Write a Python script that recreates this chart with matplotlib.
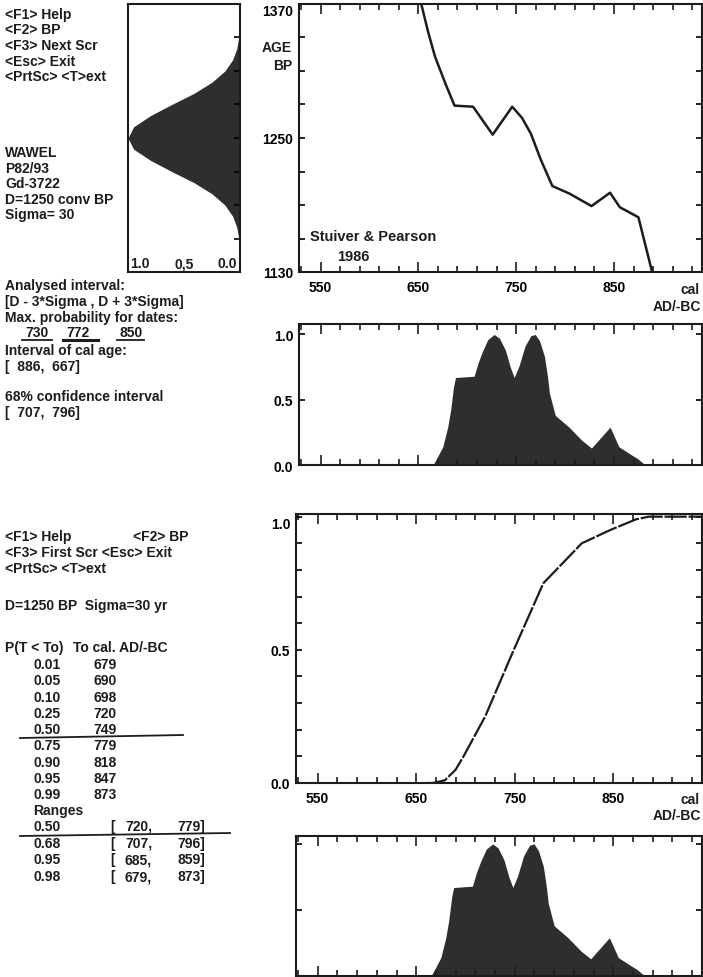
import matplotlib
matplotlib.use('Agg')
import matplotlib.pyplot as plt
from matplotlib.lines import Line2D

# calibration curve (Stuiver & Pearson 1986): cal AD/-BC vs conventional age BP
cal_years = [643, 653, 660, 667, 678, 687, 706, 726, 746, 756, 765, 775, 787, 805, 827, 846, 856, 875, 889, 898]
cal_bp = [1404, 1370, 1345, 1323, 1298, 1279, 1278, 1253, 1278, 1268, 1254, 1231, 1207, 1200, 1189, 1201, 1188, 1179, 1130, 1105]

gauss_bp = [1150, 1160, 1170, 1180, 1190, 1200, 1210, 1220, 1230, 1240, 1250,
            1260, 1270, 1280, 1290, 1300, 1310, 1320, 1330, 1340, 1350]
gauss_p = [0.0, 0.011, 0.029, 0.066, 0.135, 0.25, 0.41, 0.61, 0.80, 0.95, 1.0,
           0.95, 0.80, 0.61, 0.41, 0.25, 0.135, 0.066, 0.029, 0.011, 0.0]

# calibrated probability distribution
prob_years = [665, 668, 675, 680, 683, 686, 688, 707, 711, 715, 721, 727.5, 733, 739, 744, 748,
              753, 759, 765, 769.5, 774, 779, 782, 784, 790, 804, 817, 827, 846, 855, 868, 874, 882]
prob_vals = [0.0, 0.04, 0.14, 0.29, 0.42, 0.60, 0.67, 0.68, 0.78, 0.86, 0.96, 1.0, 0.97, 0.88, 0.75, 0.67,
             0.76, 0.91, 0.99, 1.0, 0.95, 0.83, 0.68, 0.55, 0.38, 0.29, 0.19, 0.13, 0.29, 0.14, 0.077, 0.05, 0.0]

# cumulative probability table
cum_p = [0.01, 0.05, 0.10, 0.25, 0.50, 0.75, 0.90, 0.95, 0.99]
cum_cal = [679, 690, 698, 720, 749, 779, 818, 847, 873]
# extra points of the cumulative curve outside the table
cdf_years = [660, 667] + cum_cal + [886, 940]
cdf_vals = [0.0, 0.0] + cum_p + [1.0, 1.0]

range_p = ['0.50', '0.68', '0.95', '0.98']
range_lo = [720, 707, 685, 679]
range_hi = [779, 796, 859, 873]

max_prob_dates = ['730', '772', '850']
cal_interval = [886, 667]
x_labels = [550, 650, 750, 850]

W, H = 703, 978
ink = '#1c1c1c'
fill = '#2e2e2e'

plt.rcParams['font.family'] = ['Liberation Sans', 'DejaVu Sans']
plt.rcParams['font.weight'] = 'bold'
plt.rcParams['font.size'] = 10
plt.rcParams['text.color'] = ink
plt.rcParams['axes.linewidth'] = 1.5
plt.rcParams['axes.edgecolor'] = ink

fig = plt.figure(figsize=(W / 100, H / 100), dpi=100)
fig.patch.set_facecolor('white')


def ftext(x, y, s, **kw):
    # place text with pixel coordinates measured from the top-left corner
    fig.text(x / W, 1 - y / H, s, va='center', **kw)


def fline(x0, y0, x1, y1, lw=1.3):
    fig.add_artist(Line2D([x0 / W, x1 / W], [1 - y0 / H, 1 - y1 / H], color=ink, lw=lw))


def year_ticks(ax, labels=True):
    ax.set_xlim(528, 940)
    ax.set_xticks(x_labels)
    ax.set_xticks(range(530, 940, 20), minor=True)
    ax.tick_params(axis='x', which='both', direction='in', top=True, bottom=True,
                   width=1.2, color=ink, labelbottom=labels, pad=6, labelsize=10)
    ax.tick_params(axis='x', which='major', length=7)
    ax.tick_params(axis='x', which='minor', length=4)


# left panel: measured date
ax_g = fig.add_axes([128 / W, 1 - 273 / H, 112 / W, 268 / H])
ax_g.fill_betweenx(gauss_bp, 0, gauss_p, color=fill, lw=0)
ax_g.set_xlim(1.0, 0.0)
ax_g.set_ylim(1130, 1370)
ax_g.set_xticks([])
ax_g.yaxis.tick_right()
ax_g.set_yticks(range(1160, 1341, 30))
ax_g.tick_params(axis='y', direction='in', length=4, width=1.2, labelright=False)
ax_g.text(0.985, 1138, '1.0', ha='left', va='center')
ax_g.text(0.5, 1138, '0,5', ha='center', va='center')
ax_g.text(0.03, 1138, '0.0', ha='right', va='center')

# calibration curve
ax_c = fig.add_axes([299 / W, 1 - 273 / H, 403 / W, 268 / H])
ax_c.plot(cal_years, cal_bp, color=ink, lw=1.8)
ax_c.set_ylim(1130, 1370)
ax_c.set_yticks(range(1130, 1371, 30))
ax_c.set_yticklabels(['1130', '', '', '', '1250', '', '', '', '1370'])
ax_c.tick_params(axis='y', direction='in', length=4, width=1.2, right=True, pad=4, labelsize=10)
ax_c.get_yticklabels()[-1].set_va('top')
year_ticks(ax_c)
ax_c.text(539, 1162, 'Stuiver & Pearson', ha='left', va='center', fontsize=10.5)
ax_c.text(567, 1144, '1986', ha='left', va='center', fontsize=10.5)
ftext(292, 48, 'AGE', ha='right')
ftext(292, 66, 'BP', ha='right')
ftext(690, 290, 'cal', ha='center')
ftext(701, 307, 'AD/-BC', ha='right')

# calibrated distribution
ax_p = fig.add_axes([299 / W, 1 - 466 / H, 403 / W, 141 / H])
ax_p.fill_between(prob_years, prob_vals, color=fill, lw=0)
ax_p.set_ylim(0, 1.08)
ax_p.set_yticks([0, 0.5, 1.0])
ax_p.set_yticklabels(['0.0', '0.5', '1.0'])
ax_p.tick_params(axis='y', direction='in', length=4, width=1.2, right=True, pad=4, labelsize=10)
year_ticks(ax_p, labels=False)

# cumulative probability
ax_f = fig.add_axes([296 / W, 1 - 784 / H, 406 / W, 269 / H])
ax_f.plot(cdf_years, cdf_vals, color=ink, lw=1.6, dashes=(10, 0.8))
ax_f.set_ylim(0, 1.01)
ax_f.set_yticks([i / 10 for i in range(11)])
ax_f.set_yticklabels(['0.0', '', '', '', '', '0.5', '', '', '', '', '1.0'])
ax_f.tick_params(axis='y', direction='in', length=4, width=1.2, right=True, pad=4, labelsize=10)
ax_f.get_yticklabels()[-1].set_va('top')
year_ticks(ax_f)
ftext(690, 800, 'cal', ha='center')
ftext(701, 816, 'AD/-BC', ha='right')

# bottom repeat of the distribution
ax_b = fig.add_axes([296 / W, 1 - 977 / H, 406 / W, 140 / H])
ax_b.fill_between(prob_years, prob_vals, color=fill, lw=0)
ax_b.set_ylim(0, 1.06)
ax_b.set_yticks([0.5, 1.0])
ax_b.tick_params(axis='y', direction='in', length=4, width=1.2, right=True, labelleft=False)
year_ticks(ax_b, labels=False)

# text, first screen
for i, s in enumerate(['<F1> Help', '<F2> BP', '<F3> Next Scr', '<Esc> Exit', '<PrtSc> <T>ext']):
    ftext(5, 15 + i * 15.5, s)
for i, s in enumerate(['WAWEL', 'P82/93', 'Gd-3722', 'D=1250 conv BP', 'Sigma= 30']):
    ftext(5, 153 + i * 15.6, s)

ftext(5, 286, 'Analysed interval:')
ftext(5, 302, '[D - 3*Sigma , D + 3*Sigma]')
ftext(5, 318, 'Max. probability for dates:')
for x, s in zip([25, 66, 120], max_prob_dates):
    ftext(x, 333, s)
fline(22, 341, 52, 341)
fline(63, 341, 98, 341, lw=2.2)
fline(117, 341, 144, 341)
ftext(5, 351, 'Interval of cal age:')
ftext(5, 367, '[  %d,  %d]' % tuple(cal_interval))
ftext(5, 397, '68% confidence interval')
ftext(5, 413, '[  %d,  %d]' % (range_lo[1], range_hi[1]))

# text, second screen
ftext(5, 537, '<F1> Help')
ftext(133, 537, '<F2> BP')
ftext(5, 553, '<F3> First Scr <Esc> Exit')
ftext(5, 569, '<PrtSc> <T>ext')
ftext(5, 606, 'D=1250 BP  Sigma=30 yr')
ftext(5, 648, 'P(T < To)')
ftext(73, 648, 'To cal. AD/-BC')
for i in range(len(cum_p)):
    y = 665 + i * 16.3
    ftext(33, y, '%.2f' % cum_p[i])
    ftext(93, y, str(cum_cal[i]))
fline(20, 739, 183, 736)
ftext(33, 811, 'Ranges')
for i in range(len(range_p)):
    y = 827 + i * 16.7
    ftext(33, y, range_p[i])
    ftext(110, y, '[')
    ftext(152, y, '%d,' % range_lo[i], ha='right')
    ftext(205, y, '%d]' % range_hi[i], ha='right')
fline(20, 837, 230, 834)

fig.savefig('out.png', dpi=100, facecolor='white')
